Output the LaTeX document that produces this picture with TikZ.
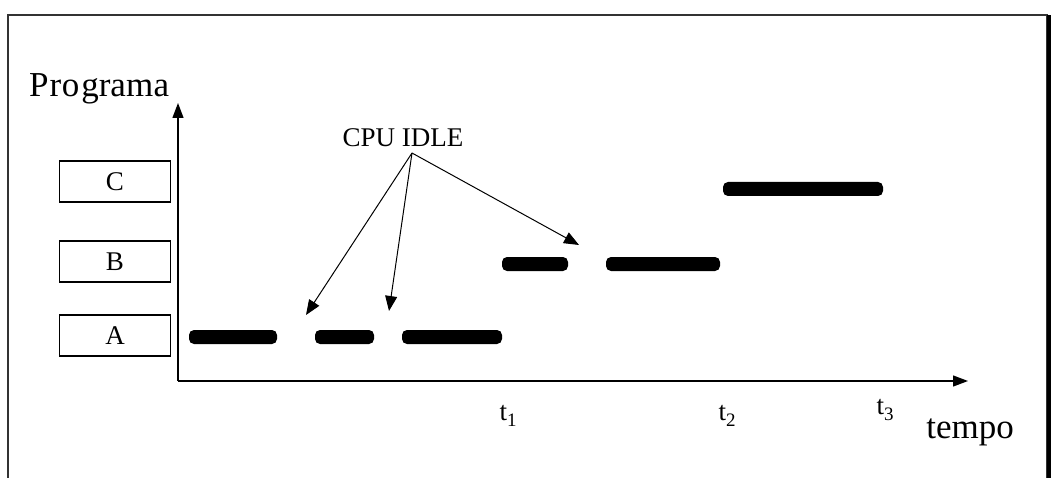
\documentclass[tikz,border=0pt]{standalone}
\usepackage{fontspec}
\setmainfont{Liberation Serif}
\usetikzlibrary{arrows.meta}
\newcommand{\tsub}[1]{t\raisebox{-6pt}{\fontsize{19}{20}\selectfont #1}}
\begin{document}
\begin{tikzpicture}[x=1pt,y=-1pt,
  frame/.style={draw=black!80,line width=1.4pt},
  progbox/.style={draw,line width=1.1pt,minimum width=111pt,minimum height=41pt,inner sep=0pt,font=\fontsize{27}{28}\selectfont},
  axis/.style={line width=1.3pt,-{Triangle[length=15pt,width=11pt]}},
  idle/.style={line width=1pt,-{Triangle[length=15pt,width=12pt]}},
  bar/.style={fill=black,rounded corners=5pt},
  lbl/.style={inner sep=0pt,font=\fontsize{27}{28}\selectfont},
  biglbl/.style={inner sep=0pt,font=\fontsize{35}{38}\selectfont}]
\useasboundingbox (0,0) rectangle (1051,478);
% frame
\draw[frame] (8,478) -- (8,15) -- (1047,15) -- (1047,478);
\fill[black] (1047,15) rectangle (1051,478);
% program boxes
\node[progbox] (C) at (115,181.5) {C};
\node[progbox] (B) at (115,261.5) {B};
\node[progbox] (A) at (115,335.5) {A};
% axes
\coordinate (O) at (178,381);
\coordinate (ytip) at (178,103);
\coordinate (xtip) at (968,381);
\draw[axis] (O) -- (ytip);
\draw[axis] (O) -- (xtip);
\node[biglbl,anchor=base west] (prog) at (29,97) {P\kern1pt r\kern0.5pt o\kern2pt gram\kern0.5pt a};
\node[biglbl,anchor=base] (tempo) at (970,438) {tempo};
\node[lbl,anchor=base] (t1) at (508,420) {\tsub{1}};
\node[lbl,anchor=base] (t2) at (727,420) {\tsub{2}};
\node[lbl,anchor=base] (t3) at (885,414) {\tsub{3}};
% bars
\fill[bar] (189,330) rectangle (277,344);
\fill[bar] (315,330) rectangle (374,344);
\fill[bar] (402,330) rectangle (502,344);
\fill[bar] (502,257) rectangle (568,271);
\fill[bar] (606,257) rectangle (720,271);
\fill[bar] (723,182) rectangle (883,196);
% CPU IDLE
\node[lbl,anchor=base] (idlelbl) at (403,147) {CPU IDLE};
\coordinate (apex) at (412,153);
\coordinate (i1) at (306,315);
\coordinate (i2) at (389,311);
\coordinate (i3) at (579,245);
\draw[idle] (apex) -- (i1);
\draw[idle] (apex) -- (i2);
\draw[idle] (apex) -- (i3);
\end{tikzpicture}
\end{document}
